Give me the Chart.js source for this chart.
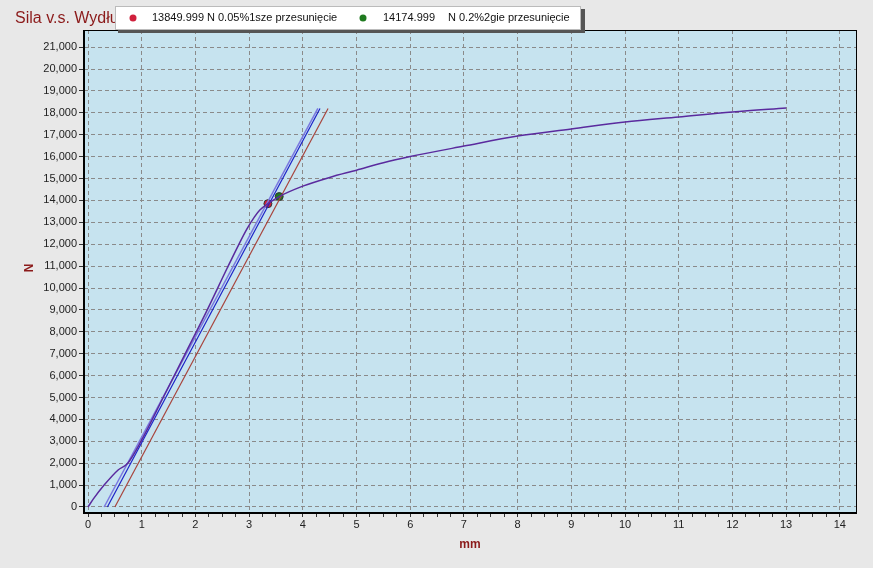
<!DOCTYPE html>
<html>
<head>
<meta charset="utf-8">
<script src="https://cdn.jsdelivr.net/npm/chart.js@4.4.0/dist/chart.umd.min.js"></script>
<style>
  html, body { margin: 0; padding: 0; background: #e8e8e8; }
</style>
</head>
<body>
<canvas id="chart" width="873" height="568"></canvas>
<script>
// dane
const curveX = [0, 0.1, 0.3, 0.56, 0.74, 1.0, 1.4, 1.8, 2.2, 2.59, 2.8, 2.96, 3.1, 3.2, 3.35, 3.56, 4.0, 4.5, 5, 5.5, 6, 7, 8, 9, 10, 11, 12, 13];
const curveY = [0, 370, 1000, 1690, 2000, 3060, 5000, 6950, 8900, 10900, 11950, 12700, 13250, 13560, 13850, 14175, 14650, 15050, 15380, 15720, 16000, 16480, 16940, 17260, 17580, 17810, 18040, 18220];

const line1X = [0.30, 4.28];
const line1Y = [0, 18200];
const line2X = [0.36, 4.32];
const line2Y = [0, 18200];
const line3X = [0.50, 4.47];
const line3Y = [0, 18200];

const markX = [3.35, 3.56];
const markY = [13849.999, 14174.999];
const markColors = ['#d0203c', '#1f7a1f'];
const legendValues = ['13849.999', '14174.999'];
const legendTexts = ['N 0.05%1sze przesunięcie', 'N 0.2%2gie przesunięcie'];

const titleText = 'Sila v.s. Wydłużenie';
const xTitle = 'mm';
const yTitle = 'N';

const xTickValues = [];
for (let i = 0; i <= 56; i++) xTickValues.push(i * 0.25);
const yTickValues = [];
for (let i = 0; i <= 21; i++) yTickValues.push(i * 1000);

function pts(xs, ys) {
  return xs.map((x, i) => ({ x: x, y: ys[i] }));
}

const darkRed = '#8b1a1a';

const decorPlugin = {
  id: 'decor',
  beforeDraw(chart) {
    const c = chart.ctx;
    const a = chart.chartArea;
    c.save();
    c.fillStyle = '#e8e8e8';
    c.fillRect(0, 0, chart.width, chart.height);
    c.fillStyle = '#c6e3ef';
    c.fillRect(a.left, a.top, a.right - a.left, a.bottom - a.top);
    c.restore();
  },
  afterDraw(chart) {
    const c = chart.ctx;
    const a = chart.chartArea;
    c.save();
    // ramka
    c.strokeStyle = '#000';
    c.lineWidth = 1;
    c.strokeRect(a.left + 0.5, a.top + 0.5, a.right - a.left - 1, a.bottom - a.top - 1);
    c.lineWidth = 2;
    c.beginPath();
    c.moveTo(a.left, a.top);
    c.lineTo(a.left, a.bottom);
    c.lineTo(a.right, a.bottom);
    c.stroke();

    // tytuly osi
    c.fillStyle = darkRed;
    c.font = 'bold 12px "Liberation Sans", Arial, sans-serif';
    c.textAlign = 'center';
    c.textBaseline = 'middle';
    c.fillText(xTitle, 470, 545);
    c.translate(30, 268);
    c.rotate(-Math.PI / 2);
    c.fillText(yTitle, 0, 0);
    c.setTransform(1, 0, 0, 1, 0, 0);

    // tytul
    c.font = '16px "Liberation Sans", Arial, sans-serif';
    c.textAlign = 'left';
    c.textBaseline = 'alphabetic';
    c.fillText(titleText, 15, 23);

    // legenda
    c.fillStyle = '#555';
    c.fillRect(118, 9, 467, 24);
    c.fillStyle = '#fff';
    c.fillRect(115, 6, 466, 24);
    c.strokeStyle = '#bbb';
    c.lineWidth = 1;
    c.strokeRect(115.5, 6.5, 465, 23);
    const dotX = [133, 363];
    const valX = [152, 383];
    const txtX = [207, 448];
    c.font = '11px "Liberation Sans", Arial, sans-serif';
    c.textBaseline = 'middle';
    for (let i = 0; i < legendValues.length; i++) {
      c.fillStyle = markColors[i];
      c.beginPath();
      c.arc(dotX[i], 18, 3.5, 0, Math.PI * 2);
      c.fill();
      c.fillStyle = '#111';
      c.fillText(legendValues[i], valX[i], 18);
      c.fillText(legendTexts[i], txtX[i], 18);
    }
    c.restore();
  }
};

const ctx = document.getElementById('chart').getContext('2d');
const chart = new Chart(ctx, {
  type: 'scatter',
  data: {
    datasets: [
      {
        label: 'krzywa',
        data: pts(curveX, curveY),
        showLine: true,
        borderColor: '#5a2a9e',
        borderWidth: 1.5,
        pointRadius: 0,
        cubicInterpolationMode: 'monotone'
      },
      {
        label: 'linia 1',
        data: pts(line1X, line1Y),
        showLine: true,
        borderColor: '#7a78e0',
        borderWidth: 1.5,
        pointRadius: 0
      },
      {
        label: 'linia 2',
        data: pts(line2X, line2Y),
        showLine: true,
        borderColor: '#1c22c8',
        borderWidth: 1.2,
        pointRadius: 0
      },
      {
        label: 'linia 3',
        data: pts(line3X, line3Y),
        showLine: true,
        borderColor: '#a8443c',
        borderWidth: 1.2,
        pointRadius: 0
      },
      {
        label: 'punkty',
        data: pts(markX, markY),
        showLine: false,
        pointRadius: 4,
        pointBackgroundColor: markColors,
        pointBorderColor: '#333',
        pointBorderWidth: 1
      }
    ]
  },
  options: {
    responsive: false,
    animation: false,
    layout: { padding: { top: 30, right: 16, left: 0, bottom: 0 } },
    plugins: {
      legend: { display: false },
      title: { display: false },
      tooltip: { enabled: false }
    },
    scales: {
      x: {
        type: 'linear',
        min: -0.075,
        max: 14.32,
        afterBuildTicks: function(scale) {
          scale.ticks = xTickValues.map(v => ({ value: v }));
        },
        afterFit: function(scale) { scale.height = 55; },
        ticks: {
          autoSkip: false,
          maxRotation: 0,
          padding: 1,
          color: '#222',
          font: { size: 11, family: '"Liberation Sans", Arial, sans-serif' },
          callback: function(v) { return Number.isInteger(v) ? String(v) : ''; }
        },
        grid: {
          color: function(c) { return c.tick && Number.isInteger(c.tick.value) ? '#8a8a8a' : 'rgba(0,0,0,0)'; },
          tickColor: '#333',
          tickLength: 4,
          lineWidth: 1,
          dash: [4, 3]
        },
        border: { display: false, dash: [4, 3] }
      },
      y: {
        type: 'linear',
        min: -274,
        max: 21781,
        afterBuildTicks: function(scale) {
          scale.ticks = yTickValues.map(v => ({ value: v }));
        },
        afterFit: function(scale) { scale.width = 84; },
        ticks: {
          padding: 2,
          color: '#222',
          font: { size: 11, family: '"Liberation Sans", Arial, sans-serif' },
          callback: function(v) { return v.toLocaleString('en-US'); }
        },
        grid: {
          color: '#8a8a8a',
          tickColor: '#333',
          tickLength: 5,
          lineWidth: 1,
          dash: [4, 3]
        },
        border: { display: false, dash: [4, 3] }
      }
    }
  },
  plugins: [decorPlugin]
});
</script>
</body>
</html>
